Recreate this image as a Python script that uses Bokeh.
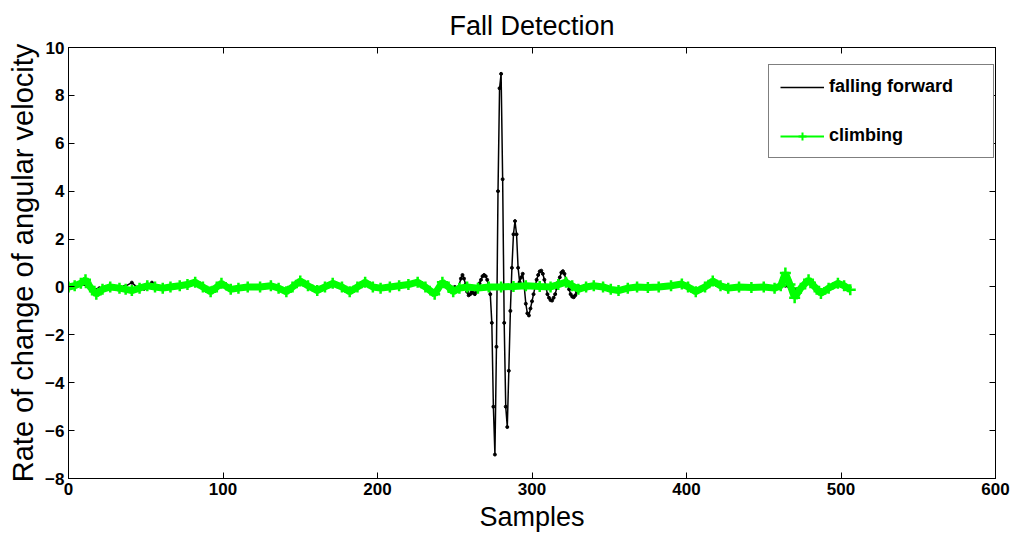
from bokeh.plotting import figure
from bokeh.models import FixedTicker, LinearAxis, Legend, LegendItem, Range1d
from bokeh.embed import file_html
from bokeh.resources import INLINE

# ---------------- data ----------------
fall_x = [0, 4, 8, 12, 16, 20, 24, 28, 32, 36, 41, 45, 49, 54, 58, 62, 67, 72, 77, 82,
          87, 92, 96, 100, 105, 110, 116, 124, 131, 136, 141, 145, 150, 155, 161, 166,
          171, 177, 182, 187, 192, 197, 202, 208, 214, 220, 226, 231, 237, 242, 246, 250,
          252, 254, 255, 256, 257, 258, 259, 260, 261, 262, 263, 264, 265, 266, 267, 268,
          269, 270, 271, 272, 273, 274, 275, 276, 277, 278, 279, 280, 281, 282, 283, 284,
          285, 286, 287, 288, 289, 290, 291, 292, 293, 294, 295, 296, 297, 298, 299, 300,
          301, 302, 303, 304, 305, 306, 307, 308, 309, 310, 311, 312, 313, 314, 315, 316,
          317, 318, 319, 320, 321, 322, 323, 324, 325, 326, 327, 328, 329, 330, 331, 333,
          336, 341, 346, 351, 356, 362, 368, 375, 382, 390, 397, 401, 406, 412, 417, 422,
          427, 434, 442, 450, 457, 461, 464, 467, 470, 474, 479, 483, 487, 492, 498, 502, 505]
fall_y = [0.0, 0.05, 0.1, 0.05, -0.1, -0.05, 0.0, -0.05, -0.1, 0.0, 0.18, -0.05, -0.08, 0.18,
          0.0, -0.05, 0.05, 0.0, 0.08, 0.15, 0.0, -0.15, 0.0, 0.12, -0.08, -0.05, 0.02, 0.0,
          0.05, -0.05, -0.15, 0.0, 0.2, 0.05, -0.12, 0.0, 0.12, 0.0, -0.15, 0.0, 0.15, 0.0,
          -0.05, 0.0, 0.05, 0.08, 0.15, 0.0, -0.25, 0.15, 0.05, 0.0,
          -0.1, 0.35, 0.5, 0.35, 0.1, -0.2, -0.35, -0.3, -0.2, -0.25, -0.3, -0.2, 0.0, 0.15,
          0.3, 0.45, 0.5, 0.45, 0.3, 0.0, -0.3, -1.5, -5.0, -7.0, -2.5, 4.0, 8.3, 8.9, 4.5,
          -1.5, -5.0, -5.85, -3.5, -1.0, 0.8, 2.2, 2.75, 2.2, 0.8, 0.2, 0.4, 0.55, 0.0, -0.7,
          -1.1, -1.19, -0.9, -0.6, -0.3, 0.0, 0.3, 0.5, 0.65, 0.68, 0.55, 0.3, 0.0, -0.3,
          -0.45, -0.55, -0.57, -0.45, -0.3, -0.05, 0.2, 0.4, 0.6, 0.66, 0.55, 0.3, 0.1, -0.1,
          -0.3, -0.4, -0.43, -0.35, -0.2, -0.1, 0.0, 0.0,
          -0.05, 0.05, 0.0, -0.08, -0.12, -0.05, 0.0, -0.05, 0.0, 0.03, 0.1, 0.0, -0.15, 0.0,
          0.2, 0.05, -0.05, 0.0, -0.03, 0.0, -0.03, 0.0, 0.05, -0.05, -0.1, 0.0, 0.2, 0.0,
          -0.2, -0.05, 0.1, 0.05, 0.0]

climb_x = [0, 4, 8, 11, 14, 18, 22, 27, 33, 37, 41, 46, 51, 56, 61, 66, 72, 77, 82, 87,
           92, 96, 99, 105, 110, 116, 124, 131, 136, 141, 145, 150, 155, 161, 166, 171,
           177, 182, 187, 192, 197, 202, 208, 214, 220, 226, 231, 237, 242, 246, 249, 253,
           258, 265, 272, 280, 288, 296, 305, 312, 317, 322, 326, 330, 335, 340, 346, 351,
           356, 362, 368, 375, 382, 390, 397, 401, 406, 412, 417, 422, 427, 434, 442, 450,
           457, 461, 464, 467, 470, 474, 479, 483, 487, 492, 498, 502, 506]
climb_y = [0.0, 0.05, 0.15, 0.3, 0.0, -0.3, -0.1, 0.0, -0.05, -0.1, -0.15, -0.05, 0.05,
           0.0, -0.05, 0.0, 0.05, 0.1, 0.2, 0.0, -0.2, 0.0, 0.15, -0.1, -0.05, 0.0, 0.0,
           0.05, -0.05, -0.2, 0.0, 0.25, 0.05, -0.15, 0.0, 0.15, 0.0, -0.2, 0.0, 0.2, 0.0,
           -0.05, 0.0, 0.05, 0.1, 0.2, 0.0, -0.3, 0.2, 0.0, -0.2, -0.05, 0.0, -0.05, 0.0,
           0.0, 0.02, 0.05, 0.02, 0.0, 0.1, 0.2, 0.05, -0.1, 0.0, 0.05, 0.0, -0.1, -0.15,
           -0.05, 0.0, -0.02, 0.0, 0.05, 0.12, 0.0, -0.2, 0.0, 0.25, 0.05, -0.05, 0.0, -0.02,
           0.0, -0.05, 0.05, 0.58, 0.1, -0.45, -0.05, 0.3, 0.0, -0.27, -0.05, 0.15, 0.05, -0.12]

x_ticks = [0, 100, 200, 300, 400, 500, 600]
y_ticks = [-8, -6, -4, -2, 0, 2, 4, 6, 8, 10]

FONT = "Liberation Sans"
GREEN = "#00ff00"

p = figure(width=1019, height=539, output_backend="svg", toolbar_location=None,
           x_range=Range1d(0, 600), y_range=Range1d(-8, 10),
           min_border_left=68, min_border_right=24, min_border_top=47, min_border_bottom=61,
           title="Fall Detection")
p.background_fill_color = "white"
p.border_fill_color = "white"
p.outline_line_color = "black"
p.outline_line_width = 1
p.xgrid.visible = False
p.ygrid.visible = False

p.title.align = "center"
p.title.text_font = FONT
p.title.text_font_size = "27px"
p.title.text_font_style = "normal"
p.title.text_color = "black"
p.title.standoff = 14

def style_axis(ax, ticks, labels=True):
    ax.ticker = FixedTicker(ticks=ticks)
    ax.major_tick_in = 6
    ax.major_tick_out = 0
    ax.minor_tick_in = 0
    ax.minor_tick_out = 0
    ax.axis_line_color = "black"
    ax.major_tick_line_color = "black"
    ax.major_label_text_font = FONT
    ax.major_label_text_font_size = "17px"
    ax.major_label_text_font_style = "bold"
    ax.major_label_text_color = "black"
    ax.major_label_standoff = 4
    if not labels:
        ax.major_label_text_alpha = 0
        ax.major_label_text_font_size = "1px"

style_axis(p.xaxis[0], x_ticks)
style_axis(p.yaxis[0], y_ticks)
p.xaxis.axis_label = "Samples"
p.yaxis.axis_label = "Rate of change of angular velocity"
for ax in (p.xaxis[0], p.yaxis[0]):
    ax.axis_label_text_font = FONT
    ax.axis_label_text_font_style = "normal"
    ax.axis_label_text_color = "black"
p.xaxis.axis_label_text_font_size = "27px"
p.yaxis.axis_label_text_font_size = "29px"
p.xaxis.axis_label_standoff = 4
p.yaxis.axis_label_standoff = 3

top_ax = LinearAxis()
style_axis(top_ax, x_ticks, labels=False)
p.add_layout(top_ax, "above")
right_ax = LinearAxis()
style_axis(right_ax, y_ticks, labels=False)
p.add_layout(right_ax, "right")

# data lines
p.line(fall_x, fall_y, line_color="black", line_width=1.5)
p.scatter(fall_x, fall_y, marker="circle", size=3, fill_color="black", line_color="black")
p.line(climb_x, climb_y, line_color=GREEN, line_width=7)
p.scatter(climb_x, climb_y, marker="cross", size=11, line_color=GREEN, line_width=2.5)

# legend proxies (placed outside the visible range)
lf = p.line([-1000, -999], [0, 0], line_color="black", line_width=1.5)
lc = p.line([-1000, -999], [0, 0], line_color=GREEN, line_width=2)
sc = p.scatter([-1000], [0], marker="cross", size=8, line_color=GREEN, line_width=2)

legend = Legend(items=[LegendItem(label="falling forward", renderers=[lf]),
                       LegendItem(label="climbing", renderers=[lc, sc])],
                location=(700, 320))
legend.label_text_font = FONT
legend.label_text_font_size = "18px"
legend.label_text_font_style = "bold"
legend.label_text_color = "black"
legend.glyph_width = 44
legend.glyph_height = 20
legend.label_height = 20
legend.label_width = 153
legend.label_standoff = 5
legend.spacing = 28
legend.padding = 11
legend.margin = 0
legend.border_line_color = "black"
legend.border_line_width = 1
legend.background_fill_color = "white"
legend.background_fill_alpha = 1
p.add_layout(legend, "center")

open("out.html", "w").write(file_html(p, INLINE))
